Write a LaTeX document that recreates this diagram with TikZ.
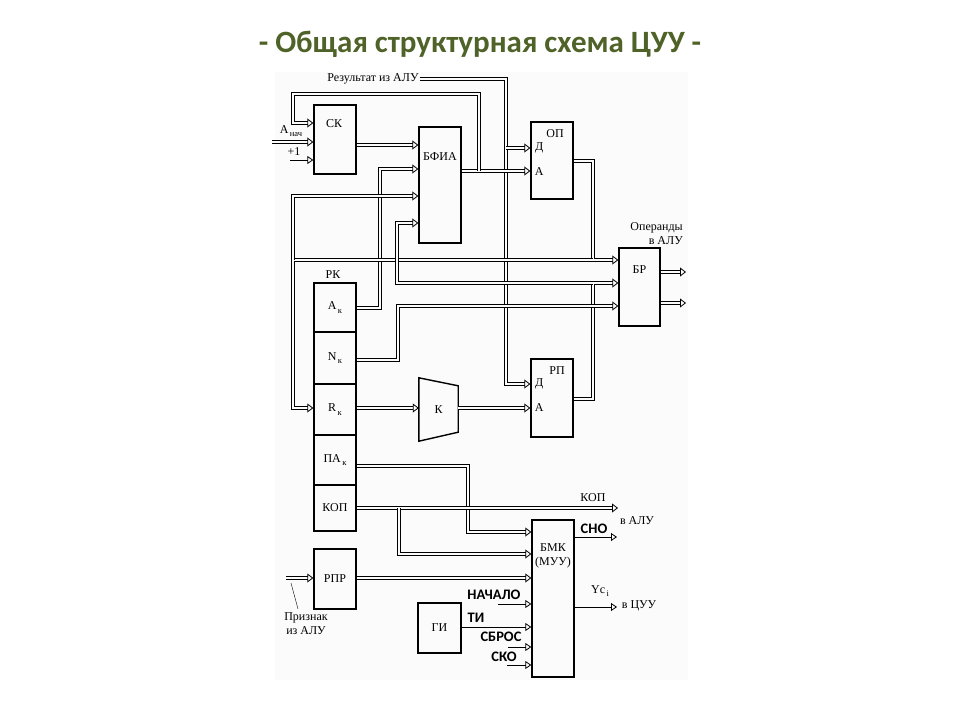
\documentclass[tikz,border=0pt]{standalone}
\usepackage{fontspec}
\setmainfont{Liberation Serif}
\newfontfamily\sigfont{Carlito}
\usepackage{xcolor}
\usetikzlibrary{calc, arrows.meta, positioning}
\definecolor{titlegreen}{HTML}{4F6228}
\definecolor{panel}{HTML}{FBFBFB}
\newcommand{\kidx}[1]{\raisebox{-0.6ex}{\fontsize{8.5}{9}\selectfont\,#1}}

\begin{document}
\begin{tikzpicture}[
    x=1pt, y=-1pt,
    block/.style={rectangle, draw=black, line width=1.4pt, minimum width=42pt, inner sep=0pt, font=\fontsize{12}{14}\selectfont},
    lbl/.style={inner sep=1pt, font=\fontsize{12}{14}\selectfont},
    sig/.style={inner sep=1pt, font=\sigfont\bfseries\fontsize{14.5}{16}\selectfont},
    bus/.style={draw=black, line width=0.8pt, double=panel, double distance=2.6pt, -{Triangle[open, length=6pt, width=9pt]}},
    wire/.style={draw=black, line width=0.8pt, -{Triangle[open, length=6pt, width=8pt]}}
]
    \useasboundingbox (0,0) rectangle (960,720);
    \fill [panel] (275,72) rectangle (688,680);

    \node [font=\sigfont\bfseries\fontsize{31}{34}\selectfont, text=titlegreen] (title) at (480,44) {- Общая структурная схема ЦУУ -};

    % blocks
    \node [block, minimum height=69pt] (sk) at (335,139.5) {};
    \node [block, minimum height=116pt] (bfia) at (440,185) {};
    \node [block, minimum height=77pt] (op) at (552,160.5) {};
    \node [block, minimum width=41pt, minimum height=78pt] (br) at (639.5,287) {};
    \node [block, minimum height=78pt] (rp) at (552,398) {};
    \node [block, minimum height=49pt] (ak) at (335,307.5) {A\kidx{к}};
    \node [block, minimum height=52pt] (nk) at (335,358) {N\kidx{к}};
    \node [block, minimum height=51pt] (rk) at (335,409.5) {R\kidx{к}};
    \node [block, minimum height=50pt] (pak) at (335,460) {ПА\kidx{к}};
    \node [block, minimum height=46pt] (kop) at (335,508) {КОП};
    \node [block, minimum height=60pt] (rpr) at (335,579) {РПР};
    \node [block, minimum width=43pt, minimum height=50pt] (gi) at (439.5,628) {ГИ};
    \node [block, minimum height=157pt] (bmk) at (553,598.5) {};
    \node [minimum width=39pt, minimum height=63pt, inner sep=0pt, font=\fontsize{12}{14}\selectfont] (k) at (438.5,409.5) {К};
    \draw [line width=1.4pt] (k.north west) -- ($(k.north east)+(0,8)$) -- ($(k.south east)+(0,-9)$) -- (k.south west) -- cycle;

    \node [lbl] at ($(sk.north)+(-1,19)$) {СК};
    \node [lbl] at ($(bfia.north)+(0,30)$) {БФИА};
    \node [lbl] at ($(op.north)+(3,12)$) {ОП};
    \node [lbl] at ($(op.west)+(9,-13)$) {Д};
    \node [lbl] at ($(op.west)+(9,11)$) {А};
    \node [lbl] at ($(br.north)+(0,22)$) {БР};
    \node [lbl] at ($(rp.north)+(5,12)$) {РП};
    \node [lbl] at ($(rp.west)+(9,-14)$) {Д};
    \node [lbl] at ($(rp.west)+(9,10)$) {А};
    \node [lbl] at ($(ak.north)+(-2,-8)$) {РК};
    \node [lbl, align=center] at ($(bmk.north)+(0,37)$) {БМК\\(МУУ)};

    % inputs and outputs
    \node [lbl] (res) at (373,79) {Результат из АЛУ};
    \node [lbl] (anach) at (291,131) {A\kidx{нач}};
    \node [lbl] (plus) at (294,152) {+1};
    \node [lbl, align=right, anchor=east] (oper) at (684,234) {Операнды\\в АЛУ};
    \node [lbl] (kop-t) at (593,498) {КОП};
    \node [lbl] (alu-t) at (637,521) {в АЛУ};
    \node [lbl] (yc-t) at (600,591) {Yc\kidx{i}};
    \node [lbl] (cuu-t) at (639,606) {в ЦУУ};
    \node [lbl, align=center] (prz) at (306,624) {Признак\\из АЛУ};
    \node [sig] (sno-t) at (594,529) {СНО};
    \node [sig] (start-t) at (494,595) {НАЧАЛО};
    \node [sig] (ti-t) at (476,618) {ТИ};
    \node [sig] (reset-t) at (501,637) {СБРОС};
    \node [sig] (sko-t) at (504,657) {СКО};

    \coordinate (anach-in) at (272,142);
    \coordinate (plus-in) at (290,160);
    \coordinate (prz-in) at (286,578);
    \coordinate (kop-out) at (618,508);
    \coordinate (start-in) at (498,604);
    \coordinate (reset-in) at (508,647);
    \coordinate (sko-in) at (507,665);
    \coordinate (sno-out) at (617,537);
    \coordinate (yc-out) at (617,607);
    \coordinate (br-out1) at (686,272);
    \coordinate (br-out2) at (686,303);

    % buses
    \draw [bus] (res.east) -- (506,79) |- (rp.west |- 0,384);
    \draw [bus] (506,148) -- (op.west |- 0,148);
    \draw [bus] (bfia.east |- 0,171) -- (op.west |- 0,171);
    \draw [bus] (479,171) |- (293,94) |- (sk.west |- 0,123);
    \draw [bus] (anach-in) -- (sk.west |- anach-in);
    \draw [wire] (plus-in) -- (sk.west |- plus-in);
    \draw [bus] (sk.east |- 0,145) -- (bfia.west |- 0,145);
    \draw [bus] (ak.east |- 0,308) -| (380,169) -- (bfia.west |- 0,169);
    \draw [bus] (op.east |- 0,161) -| (593,260) -- (br.west |- 0,260);
    \draw [bus] (593,260) -- (293,260) |- (rk.west |- 0,408);
    \draw [bus] (293,260) |- (bfia.west |- 0,196);
    \draw [bus] (rp.east |- 0,399) -| (593,283) -- (br.west |- 0,283);
    \draw [bus] (593,283) -- (397,283) |- (bfia.west |- 0,223);
    \draw [bus] (nk.east |- 0,360) -| (398,306) -- (br.west |- 0,306);
    \draw [bus] (rk.east |- 0,408) -- (k.west |- 0,408);
    \draw [bus] (k.east |- 0,408) -- (rp.west |- 0,408);
    \draw [bus] (br.east |- br-out1) -- (br-out1);
    \draw [bus] (br.east |- br-out2) -- (br-out2);
    \draw [bus] (pak.east |- 0,466) -| (468,532) -- (bmk.west |- 0,532);
    \draw [bus] (kop.east |- kop-out) -- (kop-out);
    \draw [bus] (399,508) |- (bmk.west |- 0,554);
    \draw [bus] (rpr.east |- prz-in) -- (bmk.west |- prz-in);
    \draw [bus] (prz-in) -- (rpr.west |- prz-in);
    \draw (291,583) -- (298,609);

    % control signals
    \draw [wire] (start-in) -- (bmk.west |- start-in);
    \draw [wire] (gi.east |- 0,627) -- (bmk.west |- 0,627);
    \draw [wire] (reset-in) -- (bmk.west |- reset-in);
    \draw [wire] (sko-in) -- (bmk.west |- sko-in);
    \draw [wire] (bmk.east |- sno-out) -- (sno-out);
    \draw [wire] (bmk.east |- yc-out) -- (yc-out);
\end{tikzpicture}
\end{document}
